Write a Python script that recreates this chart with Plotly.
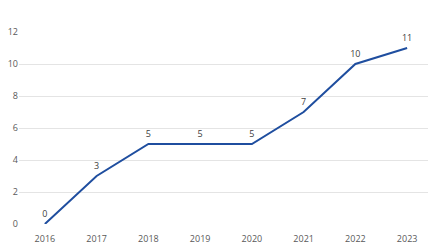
import plotly.graph_objects as go

years = ["2016", "2017", "2018", "2019", "2020", "2021", "2022", "2023"]
values = [0, 3, 5, 5, 5, 7, 10, 11]
y_ticks = [0, 2, 4, 6, 8, 10, 12]

fig = go.Figure(go.Scatter(
    x=years, y=values, mode="lines+markers+text",
    line=dict(color="#1f4e9f", width=2),
    marker=dict(size=6, opacity=0),
    text=[str(v) for v in values], textposition="top center",
    textfont=dict(size=9, color="#404040", family="Open Sans"),
    cliponaxis=False,
))
fig.update_layout(
    width=436, height=247,
    margin=dict(l=11, r=11, t=24, b=31),
    paper_bgcolor="white", plot_bgcolor="white",
    showlegend=False,
    font=dict(family="Open Sans", size=9, color="#595959"),
)
fig.update_xaxes(type="category", range=[-0.5, 7.5], showgrid=False, showline=False, ticks="",
                 automargin=False, ticklabelstandoff=8,
                 tickfont=dict(size=9, color="#595959"))
fig.update_yaxes(range=[0, 12], tickvals=y_ticks, showgrid=True, gridcolor="#e4e4e4",
                 gridwidth=1, zeroline=False, showline=False, ticks="",
                 automargin=False, ticklabelstandoff=0,
                 tickfont=dict(size=9, color="#595959"))
fig.write_html("out.html")
